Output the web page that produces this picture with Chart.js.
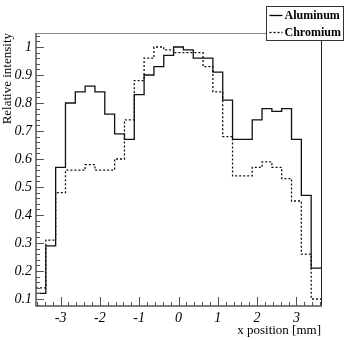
<!DOCTYPE html>
<html>
<head>
<meta charset="utf-8">
<script src="https://cdn.jsdelivr.net/npm/chart.js@4.4.1/dist/chart.umd.min.js"></script>
<style>
  html, body { margin: 0; padding: 0; background: #fff; }
  #wrap { width: 357px; height: 340px; }
</style>
</head>
<body>
<div id="wrap"><canvas id="chart" width="357" height="340"></canvas></div>
<script>
// --- DATOS ---
// bordes de los bins en mm (29 bins de 0.25 mm)
const binEdges = [-3.625, -3.375, -3.125, -2.875, -2.625, -2.375, -2.125, -1.875, -1.625, -1.375,
                  -1.125, -0.875, -0.625, -0.375, -0.125, 0.125, 0.375, 0.625, 0.875, 1.125,
                  1.375, 1.625, 1.875, 2.125, 2.375, 2.625, 2.875, 3.125, 3.375, 3.625];

const aluminum = [0.12, 0.29, 0.57, 0.80, 0.84, 0.86, 0.84, 0.76, 0.69, 0.67,
                  0.83, 0.90, 0.93, 0.97, 1.00, 0.99, 0.96, 0.96, 0.91, 0.81,
                  0.67, 0.67, 0.74, 0.78, 0.77, 0.78, 0.67, 0.47, 0.21];

const chromium = [0.14, 0.31, 0.48, 0.56, 0.56, 0.58, 0.56, 0.56, 0.60, 0.74,
                  0.88, 0.96, 1.00, 0.99, 0.98, 0.98, 0.98, 0.93, 0.84, 0.68,
                  0.54, 0.54, 0.57, 0.59, 0.57, 0.53, 0.45, 0.26, 0.10];

const xTicks = [-3, -2, -1, 0, 1, 2, 3];
const xTickLabels = ['-3', '-2', '-1', '0', '1', '2', '3'];
const yTicks = [0.1, 0.2, 0.3, 0.4, 0.5, 0.6, 0.7, 0.8, 0.9, 1];
const yTickLabels = ['0.1', '0.2', '0.3', '0.4', '0.5', '0.6', '0.7', '0.8', '0.9', '1'];

const seriesNames = ['Aluminum', 'Chromium'];

const SERIF = "'Liberation Serif', 'DejaVu Serif', serif";

// un punto por borde: el ultimo repite el valor del ultimo bin
function histPoints(values) {
    return binEdges.map((x, i) => ({ x: x, y: values[Math.min(i, values.length - 1)] }));
}

// --- MARCO, TICKS Y LEYENDA ESTILO ROOT ---
const rootFrame = {
    id: 'rootFrame',
    afterDraw(chart) {
        const { ctx, chartArea: a, scales: { x, y } } = chart;
        ctx.save();

        // marco superior (gris) y derecho
        ctx.lineWidth = 1;
        ctx.strokeStyle = '#888';
        ctx.beginPath();
        ctx.moveTo(a.left, a.top + 0.5);
        ctx.lineTo(a.right, a.top + 0.5);
        ctx.stroke();
        ctx.strokeStyle = '#222';
        ctx.beginPath();
        ctx.moveTo(a.right + 0.5, a.top);
        ctx.lineTo(a.right + 0.5, a.bottom);
        ctx.stroke();

        // ejes
        ctx.strokeStyle = '#555';
        ctx.lineWidth = 1.5;
        ctx.beginPath();
        ctx.moveTo(a.left, a.top);
        ctx.lineTo(a.left, a.bottom);
        ctx.lineTo(a.right + 1, a.bottom);
        ctx.stroke();

        // ticks del eje y (mayores cada 0.1, menores cada 0.02)
        ctx.lineWidth = 1;
        ctx.beginPath();
        for (let k = 4; k <= 52; k++) {
            const py = Math.round(y.getPixelForValue(k * 0.02)) + 0.5;
            const len = k % 5 === 0 ? 8 : 4;
            ctx.moveTo(a.left, py);
            ctx.lineTo(a.left + len, py);
        }
        // ticks del eje x (mayores cada 1, menores cada 0.2)
        for (let k = -18; k <= 18; k++) {
            const px = Math.round(x.getPixelForValue(k * 0.2)) + 0.5;
            const len = k % 5 === 0 ? 9 : 4;
            ctx.moveTo(px, a.bottom);
            ctx.lineTo(px, a.bottom - len);
        }
        ctx.stroke();

        // leyenda
        const lx = 266.5, ly = 6.5, lw = 77, lh = 34;
        ctx.fillStyle = '#fff';
        ctx.fillRect(lx, ly, lw, lh);
        ctx.strokeStyle = '#333';
        ctx.lineWidth = 1;
        ctx.strokeRect(lx, ly, lw, lh);

        ctx.font = "bold 12px " + SERIF;
        ctx.textBaseline = 'middle';
        ctx.textAlign = 'left';
        ctx.fillStyle = '#000';
        chart.data.datasets.forEach((ds, i) => {
            const rowY = ly + 9 + i * 17;
            ctx.strokeStyle = '#000';
            ctx.lineWidth = 1.3;
            ctx.setLineDash(ds.borderDash || []);
            ctx.beginPath();
            ctx.moveTo(lx + 3, rowY);
            ctx.lineTo(lx + 16, rowY);
            ctx.stroke();
            ctx.setLineDash([]);
            ctx.fillText(seriesNames[i], lx + 18, rowY + 0.5);
        });

        ctx.restore();
    }
};

new Chart(document.getElementById('chart'), {
    type: 'line',
    data: {
        datasets: [
            {
                label: seriesNames[0],
                data: histPoints(aluminum),
                stepped: 'before',
                borderColor: '#111',
                borderWidth: 1.3,
                pointRadius: 0,
                fill: false
            },
            {
                label: seriesNames[1],
                data: histPoints(chromium),
                stepped: 'before',
                borderColor: '#111',
                borderWidth: 1.3,
                borderDash: [2, 2],
                pointRadius: 0,
                fill: false
            }
        ]
    },
    options: {
        responsive: false,
        animation: false,
        layout: { padding: { top: 33, right: 36, left: 0, bottom: 0 } },
        plugins: { legend: { display: false }, tooltip: { enabled: false } },
        scales: {
            x: {
                type: 'linear',
                min: -3.625,
                max: 3.625,
                grid: { display: false, drawTicks: false, tickLength: 0 },
                border: { display: false },
                afterBuildTicks: s => { s.ticks = xTicks.map(v => ({ value: v })); },
                afterFit: s => { s.height = 34; },
                ticks: {
                    padding: 4,
                    maxRotation: 0,
                    autoSkip: false,
                    color: '#000',
                    font: { family: SERIF, size: 14, style: 'italic' },
                    callback: (v, i) => xTickLabels[i]
                },
                title: {
                    display: true,
                    text: 'x position [mm]',
                    align: 'end',
                    color: '#000',
                    font: { family: SERIF, size: 13 },
                    padding: { top: 0, bottom: 2 }
                }
            },
            y: {
                min: 0.075,
                max: 1.05,
                grid: { display: false, drawTicks: false, tickLength: 0 },
                border: { display: false },
                afterBuildTicks: s => { s.ticks = yTicks.map(v => ({ value: v })); },
                afterFit: s => { s.width = 36; },
                ticks: {
                    padding: 4,
                    autoSkip: false,
                    color: '#000',
                    font: { family: SERIF, size: 14, style: 'italic' },
                    callback: (v, i) => yTickLabels[i]
                },
                title: {
                    display: true,
                    text: 'Relative intensity',
                    align: 'end',
                    color: '#000',
                    font: { family: SERIF, size: 13 },
                    padding: 0
                }
            }
        }
    },
    plugins: [rootFrame]
});
</script>
</body>
</html>
